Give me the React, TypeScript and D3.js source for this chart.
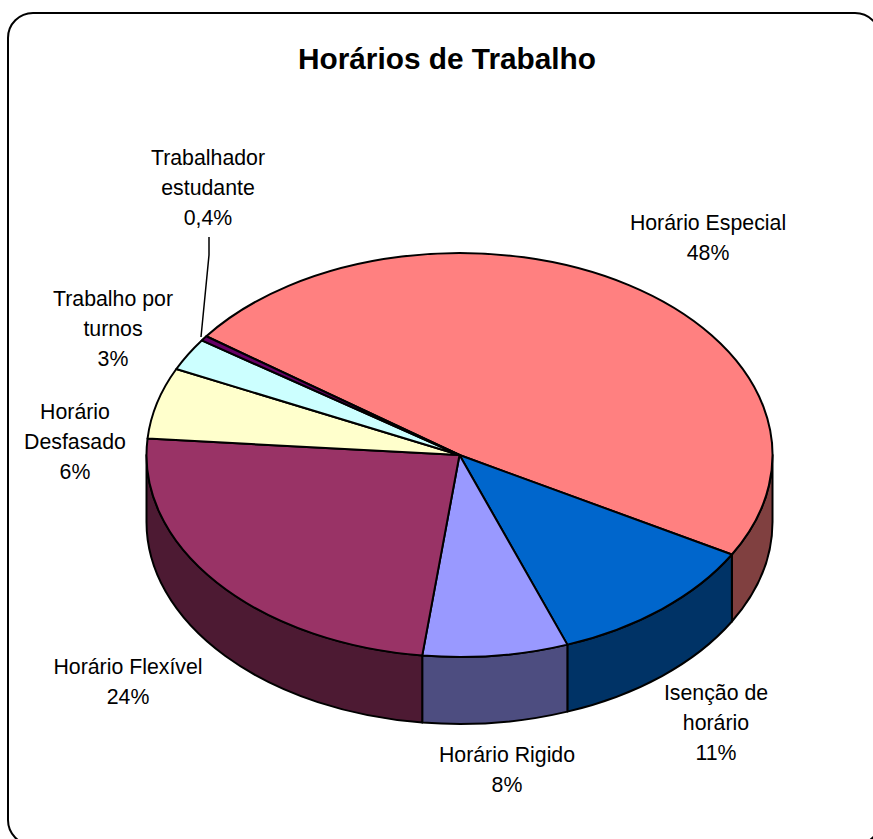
import React from 'react';
import * as d3 from 'd3';

const title = 'Horários de Trabalho';

// clockwise, starting at the top-left edge of the big slice
const categories = [
  ['Horário Especial'],
  ['Isenção de', 'horário'],
  ['Horário Rigido'],
  ['Horário Flexível'],
  ['Horário', 'Desfasado'],
  ['Trabalho por', 'turnos'],
  ['Trabalhador', 'estudante'],
];
const percentLabels = ['48%', '11%', '8%', '24%', '6%', '3%', '0,4%'];
// slice shares as measured on the picture (labels above are rounded)
const values = [48.2, 11.2, 7.5, 24.4, 5.7, 2.6, 0.4];

const topColors = ['#FF8080', '#0066CC', '#9999FF', '#993366', '#FFFFCC', '#CCFFFF', '#660066'];
const sideColors = ['#804040', '#003366', '#4D4D80', '#4D1A33', '#808066', '#668080', '#330033'];

// center x / first baseline of every label
const labelPos = [
  [708, 230],
  [716, 700],
  [507, 762],
  [128, 674],
  [75, 419],
  [113, 306],
  [208, 165],
];

const W = 873;
const H = 839;
const cx = 459.5;
const cy = 455;
const rx = 313;
const ry = 202;
const depth = 67;
const startDeg = -54;
const font = '"Liberation Sans", Arial, sans-serif';

const px = (a: number) => cx + rx * Math.sin(a);
const py = (a: number) => cy - ry * Math.cos(a);

// outer wall of a slice, only the part that faces the viewer
function wallPath(a0: number, a1: number) {
  const from = Math.max(a0, Math.PI / 2);
  const to = Math.min(a1, (3 * Math.PI) / 2);
  if (to <= from) return null;
  const large = to - from > Math.PI ? 1 : 0;
  return (
    `M${px(from)},${py(from)}` +
    `A${rx},${ry} 0 ${large} 1 ${px(to)},${py(to)}` +
    `L${px(to)},${py(to) + depth}` +
    `A${rx},${ry} 0 ${large} 0 ${px(from)},${py(from) + depth}Z`
  );
}

export default function App() {
  const start = (startDeg * Math.PI) / 180;
  const pie = d3
    .pie<number>()
    .sort(null)
    .startAngle(start)
    .endAngle(start + 2 * Math.PI);
  const slices = pie(values);
  const arc = d3.arc<d3.PieArcDatum<number>>().innerRadius(0).outerRadius(rx);

  return (
    <svg
      width={W}
      height={H}
      style={{ position: 'absolute', left: 0, top: 0, display: 'block', background: '#fff' }}
    >
      <rect x={8} y={13} width={872} height={832} rx={25} ry={25} fill="#fff" stroke="#000" strokeWidth={2} />
      <text x={447} y={69} textAnchor="middle" fontFamily={font} fontWeight="bold" fontSize={29.8} fill="#000">
        {title}
      </text>

      {slices.map((s, i) => {
        const d = wallPath(s.startAngle, s.endAngle);
        return d ? <path key={i} d={d} fill={sideColors[i]} stroke="#000" strokeWidth={2} strokeLinejoin="round" /> : null;
      })}

      <g transform={`translate(${cx},${cy}) scale(1,${ry / rx})`}>
        {slices.map((s, i) => (
          <path
            key={i}
            d={arc(s) as string}
            fill={topColors[i]}
            stroke="#000"
            strokeWidth={2}
            strokeLinejoin="round"
            vectorEffect="non-scaling-stroke"
          />
        ))}
      </g>

      {/* leader for the tiny slice */}
      <polyline points="209,237 209,255 201,337" fill="none" stroke="#000" strokeWidth={1.5} />

      {categories.map((lines, i) => (
        <text key={i} textAnchor="middle" fontFamily={font} fontSize={21.3} fill="#000">
          {[...lines, percentLabels[i]].map((t, j) => (
            <tspan key={j} x={labelPos[i][0]} y={labelPos[i][1] + j * 30}>
              {t}
            </tspan>
          ))}
        </text>
      ))}
    </svg>
  );
}
